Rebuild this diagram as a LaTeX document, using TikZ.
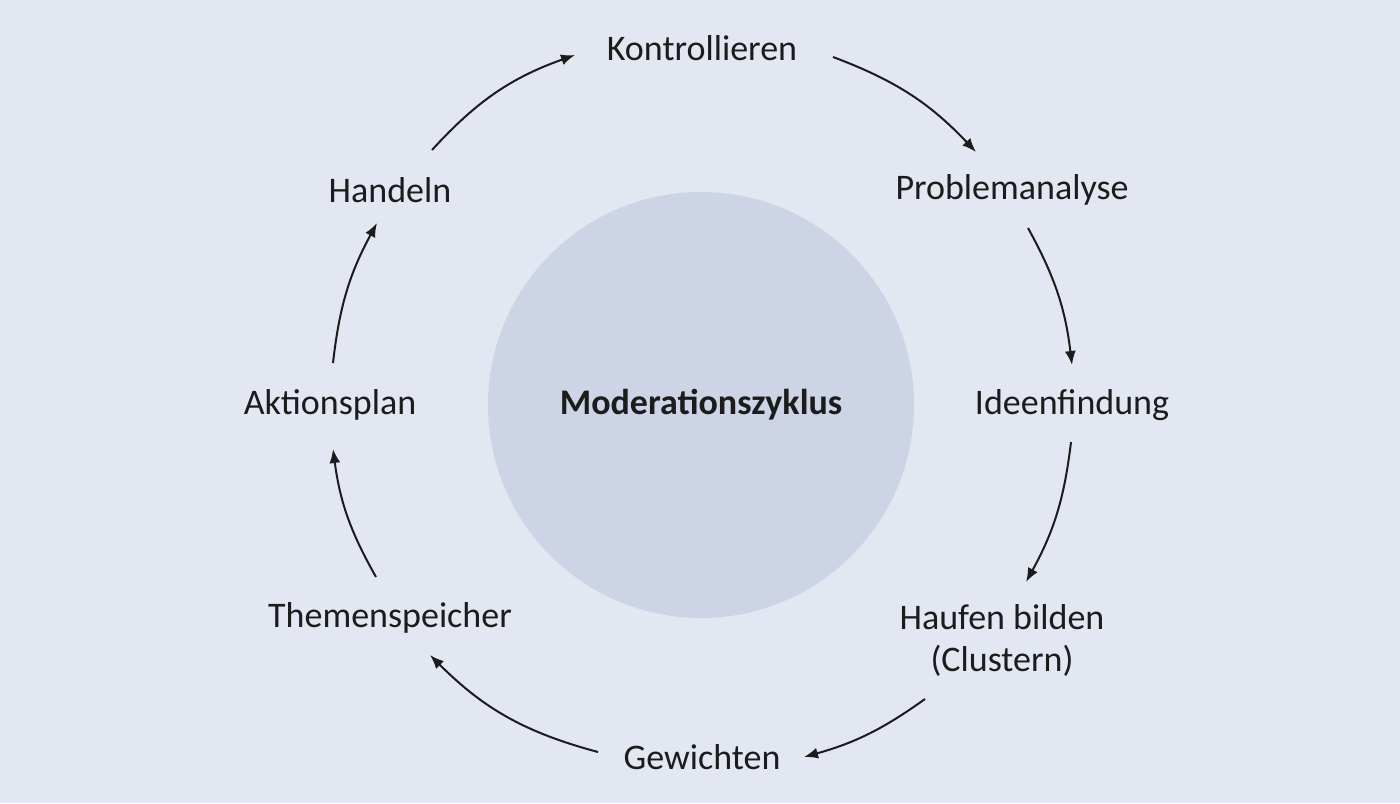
\documentclass[tikz,border=0pt]{standalone}
\usepackage{fontspec}
\setmainfont{Carlito}
\usetikzlibrary{arrows.meta}
\definecolor{bgblue}{HTML}{E3E7F1}
\definecolor{discblue}{HTML}{CDD4E6}
\definecolor{ink}{HTML}{1C1C1C}
\tikzset{
	phase/.style={text=ink, font=\fontsize{18}{21}\selectfont, align=center, inner sep=2pt},
	cyc/.style={draw=ink, line width=1pt, -{Latex[length=7pt,width=5.5pt]}}
}
\begin{document}
\begin{tikzpicture}[x=0.5pt, y=0.5pt]
	\useasboundingbox (0, 0) rectangle (1400, 803);
	\fill[bgblue] (0, 0) rectangle (1400, 803);
	% centre disc
	\fill[discblue] (701, 398) circle (213);
	\node[text=ink, font=\fontsize{18}{21}\selectfont\bfseries] (mod) at (701, 398) {Moderationszyklus};
	% phases
	\node[phase] (kon) at (702, 755) {Kontrollieren};
	\node[phase] (prob) at (1012, 613) {Problemanalyse};
	\node[phase] (idee) at (1072, 398) {Ideenfindung};
	\node[phase] (hauf) at (1002, 163) {Haufen bilden\\(Clustern)};
	\node[phase] (gew) at (702, 46) {Gewichten};
	\node[phase] (them) at (390, 185) {Themenspeicher};
	\node[phase] (akt) at (330, 398) {Aktionsplan};
	\node[phase] (hand) at (390, 613) {Handeln};
	% cycle
	\draw[cyc] ([shift={(131,-9)}]kon.center) to[bend left=13] ([shift={(-36,38)}]prob.center);
	\draw[cyc] ([shift={(16,-38)}]prob.center) to[bend left=11] ([shift={(0,40)}]idee.center);
	\draw[cyc] ([shift={(-1,-37)}]idee.center) to[bend left=11] ([shift={(24,58)}]hauf.center);
	\draw[cyc] ([shift={(-77,-59)}]hauf.center) to[bend left=10] ([shift={(102,0)}]gew.center);
	\draw[cyc] ([shift={(-104,5)}]gew.center) to[bend left=15] ([shift={(40,-37)}]them.center);
	\draw[cyc] ([shift={(-14,41)}]them.center) to[bend left=11] ([shift={(3,-44)}]akt.center);
	\draw[cyc] ([shift={(3,42)}]akt.center) to[bend left=11] ([shift={(-13,-33)}]hand.center);
	\draw[cyc] ([shift={(42,40)}]hand.center) to[bend left=14] ([shift={(-127,-7)}]kon.center);
\end{tikzpicture}
\end{document}
